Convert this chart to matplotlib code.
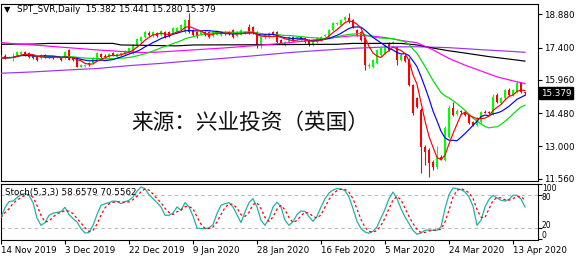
import numpy as np
import pandas as pd
import matplotlib
matplotlib.use("Agg")
import matplotlib.pyplot as plt
import matplotlib.transforms as mtransforms

# ---------------- data ----------------
opens = [17.07, 17.05, 16.95, 16.95, 17.05, 17.12, 17.22, 17.15, 17.07, 17.00,
         16.93, 17.07, 17.02, 17.00, 16.95, 17.00, 16.93, 17.30, 16.93, 16.98,
         16.55, 16.60, 16.72, 16.70, 16.85, 17.10, 17.05, 16.98, 17.15, 17.00,
         17.08, 17.10, 17.20, 17.15, 17.50, 17.68, 17.87, 18.05, 17.90, 18.05,
         17.96, 18.10, 18.10, 18.05, 18.10, 18.19, 18.10, 18.63, 18.19, 18.10,
         18.00, 18.10, 18.10, 17.92, 17.98, 17.96, 18.08, 18.08, 18.19, 17.92,
         17.98, 18.05, 18.30, 18.30, 18.10, 17.52, 17.87, 17.87, 18.10, 18.10,
         17.74, 17.52, 17.65, 17.87, 17.78, 17.87, 17.83, 17.74, 17.52, 17.65,
         17.74, 17.92, 17.83, 18.19, 18.45, 18.41, 18.63, 18.72, 18.63, 18.19,
         18.10, 17.83, 16.58, 16.55, 16.72, 17.07, 17.16, 17.61, 17.60, 17.43,
         16.85, 17.05, 16.90, 15.74, 15.16, 14.62, 12.97, 12.84, 12.31, 12.08,
         12.55, 12.40, 13.42, 14.71, 14.45, 14.56, 14.53, 14.40, 14.09, 13.96,
         14.09, 14.55, 14.53, 14.40, 15.29, 14.94, 15.16, 15.51, 15.29, 15.43,
         15.83, 15.382]
highs = [17.12, 17.10, 17.05, 17.15, 17.25, 17.27, 17.26, 17.20, 17.12, 17.04,
         17.12, 17.10, 17.05, 17.04, 17.02, 17.03, 17.25, 17.32, 16.98, 17.00,
         16.66, 16.68, 16.75, 16.97, 17.20, 17.18, 17.10, 17.15, 17.20, 17.16,
         17.22, 17.30, 17.40, 17.55, 17.85, 17.92, 18.15, 18.12, 18.15, 18.10,
         18.20, 18.16, 18.14, 18.33, 18.32, 18.45, 18.68, 18.93, 18.25, 18.15,
         18.20, 18.16, 18.14, 18.12, 18.19, 18.14, 18.12, 18.12, 18.24, 18.12,
         18.22, 18.12, 18.45, 18.38, 18.14, 17.92, 18.05, 18.10, 18.15, 18.14,
         17.80, 17.70, 17.92, 17.92, 17.88, 17.90, 17.87, 17.78, 17.78, 17.87,
         17.92, 18.00, 18.22, 18.55, 18.55, 18.66, 18.80, 18.93, 18.68, 18.25,
         18.15, 17.88, 16.70, 16.90, 17.35, 17.45, 17.58, 17.66, 17.68, 17.48,
         17.12, 17.10, 16.95, 15.80, 15.20, 14.70, 13.05, 12.95, 12.40, 13.00,
         12.62, 13.90, 14.85, 15.00, 14.65, 14.62, 14.60, 14.45, 14.15, 14.30,
         14.58, 14.62, 14.60, 15.35, 15.40, 15.20, 15.55, 15.60, 15.55, 15.90,
         15.88, 15.441]
lows = [16.88, 16.90, 16.92, 16.82, 17.00, 17.08, 17.05, 16.96, 16.90, 16.82,
        16.90, 16.95, 16.92, 16.90, 16.93, 16.82, 16.90, 16.83, 16.80, 16.52,
        16.52, 16.56, 16.60, 16.65, 16.82, 16.96, 16.95, 16.95, 17.02, 16.97,
        17.05, 17.07, 17.15, 17.12, 17.45, 17.62, 17.83, 17.92, 17.86, 17.88,
        17.92, 17.83, 17.86, 18.00, 18.05, 18.15, 18.05, 18.05, 17.90, 17.85,
        17.95, 17.94, 17.83, 17.88, 17.95, 17.92, 17.98, 17.98, 17.83, 17.88,
        17.95, 18.00, 18.00, 18.00, 17.39, 17.39, 17.80, 17.83, 17.95, 17.60,
        17.55, 17.48, 17.60, 17.70, 17.74, 17.72, 17.62, 17.48, 17.48, 17.62,
        17.70, 17.88, 17.80, 18.15, 18.40, 18.38, 18.60, 18.50, 18.28, 17.92,
        17.70, 16.41, 16.50, 16.50, 16.68, 17.02, 17.12, 17.25, 17.55, 16.63,
        16.80, 16.75, 15.70, 14.40, 14.70, 11.82, 12.17, 11.64, 11.95, 12.00,
        12.40, 12.35, 13.38, 14.35, 14.40, 14.45, 14.35, 14.00, 13.90, 13.92,
        14.05, 14.48, 14.45, 14.38, 14.95, 14.90, 15.10, 15.25, 15.25, 15.40,
        15.38, 15.280]
closes = [16.93, 16.95, 16.98, 17.00, 17.20, 17.22, 17.10, 17.00, 16.93, 16.85,
          17.07, 16.98, 16.95, 16.95, 16.98, 16.85, 17.22, 16.85, 16.85, 16.55,
          16.62, 16.63, 16.66, 16.93, 17.15, 17.00, 16.98, 17.10, 17.05, 17.12,
          17.18, 17.25, 17.37, 17.52, 17.80, 17.87, 18.10, 17.98, 18.10, 17.92,
          18.15, 17.87, 17.90, 18.28, 18.28, 18.41, 18.63, 18.10, 17.96, 17.90,
          18.15, 17.98, 17.87, 18.08, 18.15, 18.10, 18.00, 18.00, 17.87, 18.08,
          18.19, 18.08, 18.05, 18.05, 17.52, 17.87, 18.00, 18.05, 18.00, 17.65,
          17.61, 17.65, 17.87, 17.74, 17.83, 17.74, 17.65, 17.52, 17.74, 17.83,
          17.87, 17.96, 18.19, 18.50, 18.50, 18.63, 18.77, 18.55, 18.32, 17.96,
          17.74, 16.63, 16.62, 16.85, 17.30, 17.39, 17.52, 17.30, 17.65, 16.85,
          17.07, 16.80, 15.74, 14.49, 14.76, 12.97, 12.75, 12.26, 12.08, 12.49,
          12.45, 13.82, 14.71, 14.40, 14.60, 14.53, 14.40, 14.04, 13.96, 14.27,
          14.53, 14.51, 14.49, 15.20, 14.98, 15.16, 15.51, 15.29, 15.51, 15.83,
          15.43, 15.379]

stoch_k = [39.4, 57.3, 68.3, 69.5, 75.7, 81.2, 83.0, 80.0, 66.5, 38.3,
           24.9, 29.8, 43.3, 47.0, 48.8, 50.0, 58.0, 44.5, 37.2, 31.1,
           18.8, 10.9, 11.5, 24.9, 44.5, 61.6, 64.6, 66.5, 69.5, 68.9,
           64.6, 68.3, 70.8, 76.9, 87.3, 95.2, 92.2, 81.2, 73.8, 66.5,
           58.6, 43.3, 43.3, 47.6, 58.6, 52.5, 66.5, 58.6, 42.1, 20.1,
           18.8, 18.8, 20.1, 26.2, 46.4, 61.6, 64.6, 66.5, 58.6, 44.5,
           29.8, 49.4, 66.5, 73.8, 58.6, 34.0, 24.9, 37.2, 58.6, 67.3,
           58.6, 34.0, 24.9, 31.7, 44.5, 51.2, 50.6, 40.8, 32.3, 41.4,
           58.6, 73.8, 84.2, 89.7, 92.2, 91.6, 88.5, 76.9, 55.5, 32.3,
           18.8, 12.7, 10.3, 14.0, 22.0, 38.4, 54.3, 73.8, 85.9, 73.8,
           55.5, 40.2, 28.0, 15.8, 8.5, 11.0, 15.8, 16.5, 15.8, 15.8,
           22.0, 55.5, 81.2, 93.4, 92.2, 90.3, 86.1, 76.9, 60.3, 24.9,
           34.0, 58.6, 72.6, 79.9, 75.1, 70.8, 69.5, 72.6, 79.9, 80.0,
           73.0, 58.66]

# long moving averages, read at sampled bars
magenta_bars = [0, 4, 8, 16, 24, 32, 36, 40, 48, 56, 64, 72, 80, 84, 88, 92, 96,
                100, 104, 108, 112, 116, 120, 124, 128, 131]
magenta_vals = [17.63, 17.56, 17.52, 17.41, 17.30, 17.21, 17.18, 17.21, 17.30, 17.39,
                17.50, 17.62, 17.78, 17.86, 17.93, 17.93, 17.85, 17.72, 17.62, 17.30,
                16.92, 16.62, 16.36, 16.10, 15.92, 15.80]
black_bars = [0, 8, 12, 28, 30, 44, 48, 64, 84, 88, 100, 104, 108, 112, 116, 122, 128, 131]
black_vals = [17.55, 17.56, 17.59, 17.59, 17.52, 17.48, 17.52, 17.53, 17.55, 17.59,
              17.59, 17.52, 17.38, 17.26, 17.16, 17.00, 16.87, 16.80]
purple_bars = [0, 8, 16, 24, 32, 40, 48, 56, 64, 72, 80, 88, 96, 104, 112, 120, 128, 131]
purple_vals = [16.26, 16.32, 16.40, 16.47, 16.60, 16.70, 16.82, 16.93, 17.05, 17.18,
               17.28, 17.37, 17.43, 17.44, 17.40, 17.31, 17.23, 17.19]

date_labels = ["14 Nov 2019", "3 Dec 2019", "22 Dec 2019", "9 Jan 2020", "28 Jan 2020",
               "16 Feb 2020", "5 Mar 2020", "24 Mar 2020", "13 Apr 2020"]
date_bars = [0, 16, 32, 48, 64, 80, 96, 112, 128]
price_ticks = [18.880, 17.400, 15.960, 14.480, 13.000, 11.560]
stoch_levels = ["100", "80", "20", "0"]

title = "SPT_SVR,Daily  15.382 15.441 15.280 15.379"
stoch_title = "Stoch(5,3,3) 58.6579 70.5562"
watermark = "来源：兴业投资（英国）"

# ---------------- figure ----------------
W, H = 578, 260
fig = plt.figure(figsize=(W / 100, H / 100), dpi=100)
fig.patch.set_facecolor("white")
FS = 6.3
FONT = "DejaVu Sans"

def rect(x0, y0, x1, y1):
    return [x0 / W, 1 - y1 / H, (x1 - x0) / W, (y1 - y0) / H]

ax = fig.add_axes(rect(0.5, 3.5, 537.5, 180.7))
ax2 = fig.add_axes(rect(0.5, 184, 537.5, 239.5))

n = len(closes)
x = np.arange(n)
o = np.array(opens); c = np.array(closes); h = np.array(highs); l = np.array(lows)
up = c >= o
cols = np.where(up, "#00FF00", "#FF0000")

ax.vlines(x, l, h, colors=cols, linewidth=0.8, zorder=2)
bottom = np.minimum(o, c)
height = np.maximum(np.abs(c - o), 0.035)
ax.bar(x, height, bottom=bottom, width=0.72, color=cols, linewidth=0, zorder=3)

cs = pd.Series(closes)
ma5 = cs.rolling(5, min_periods=1).mean()
ma10 = cs.rolling(10, min_periods=1).mean()
ma20 = cs.rolling(20, min_periods=1).mean()

lw = 0.85
ax.plot(purple_bars, purple_vals, color="#9B30FF", lw=lw, zorder=4)
ax.plot(black_bars, black_vals, color="black", lw=lw, zorder=4)
ax.plot(magenta_bars, magenta_vals, color="#FF00FF", lw=lw, zorder=4)
ax.plot(x, ma20, color="#00DD00", lw=lw, zorder=4)
ax.plot(x, ma10, color="#0000FF", lw=lw, zorder=4)
ax.plot(x, ma5, color="#FF0000", lw=lw, zorder=4)

ax.set_xlim(-0.125, 134.125)
ax.set_ylim(11.474, 19.367)
ax.set_xticks([])
ax.yaxis.tick_right()
ax.set_yticks(price_ticks)
ax.set_yticklabels([f"{v:.3f}" for v in price_ticks], fontsize=FS, family=FONT)
ax.tick_params(axis="y", length=3, width=0.8, pad=2, colors="black")
for s in ax.spines.values():
    s.set_linewidth(0.8)
    s.set_color("black")

# price box
tb = mtransforms.blended_transform_factory(ax.transAxes, ax.transData)
ax.text(1.006, closes[-1], f"{closes[-1]:.3f}", transform=tb, ha="left", va="center",
        fontsize=FS, family=FONT, color="white",
        bbox=dict(boxstyle="square,pad=0.2", fc="black", ec="black"), clip_on=False)

# titles
fig.text(4 / W, 1 - 10 / H, "▼", fontsize=6, family=FONT, va="center", ha="left")
fig.text(17 / W, 1 - 10 / H, title, fontsize=FS, family=FONT, va="center", ha="left")
fig.text(250 / W, 1 - 123 / H, watermark, fontsize=15.6,
         family=["Noto Sans CJK SC", "DejaVu Sans"], va="center", ha="center",
         color="#111111", zorder=10)

# ---------------- stochastic panel ----------------
ks = pd.Series(stoch_k)
kd = ks.rolling(3, min_periods=1).mean()
ax2.axhline(80, color="#BBBBBB", lw=0.8, ls=(0, (3, 3)))
ax2.axhline(20, color="#BBBBBB", lw=0.8, ls=(0, (3, 3)))
ax2.plot(x, ks, color="#20B2AA", lw=0.9, zorder=3)
ax2.plot(x, kd, color="#FF0000", lw=0.9, ls=(0, (2, 2)), zorder=4)
ax2.set_xlim(-0.125, 134.125)
ax2.set_ylim(-1.1, 100.7)
ax2.yaxis.tick_right()
ax2.set_yticks([0, 20, 80, 100])
ax2.set_yticklabels([])
ax2.tick_params(axis="y", length=3, width=0.8)
# level labels, nudged apart so they stay readable
fig_lab_y = [188.5, 198.0, 226.0, 235.5]
for lab, py in zip(stoch_levels, fig_lab_y):
    fig.text(542 / W, 1 - py / H, lab, ha="left", va="center",
             fontsize=5.5, family=FONT)
ax2.set_xticks(date_bars)
ax2.set_xticklabels(date_labels, fontsize=FS, family=FONT)
for t in ax2.get_xticklabels():
    t.set_ha("left")
ax2.tick_params(axis="x", length=3, width=0.8, pad=1.5)
for s in ax2.spines.values():
    s.set_linewidth(0.8)
    s.set_color("black")
fig.text(5 / W, 1 - 192 / H, stoch_title, fontsize=FS, family=FONT, va="center", ha="left")

fig.savefig("out.png", dpi=100, facecolor="white")
